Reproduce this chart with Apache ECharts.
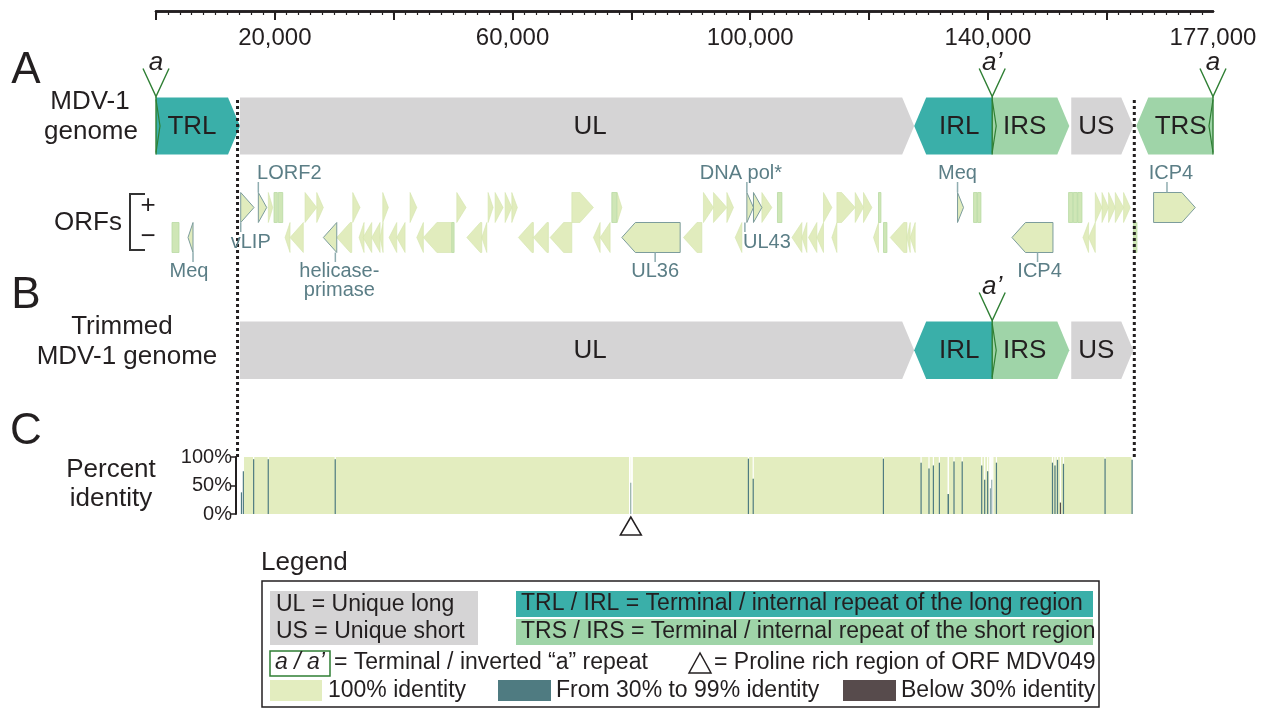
<!DOCTYPE html>
<html>
<head>
<meta charset="utf-8">
<script src="https://cdn.jsdelivr.net/npm/echarts@6/dist/echarts.min.js"></script>
<style>
  html, body { margin: 0; padding: 0; background: #fff; }
  #chart { width: 1270px; height: 708px; }
</style>
</head>
<body>
<div id="chart"></div>
<script>
const GENOME_LENGTH = 177874

// top scale
const majorTicks = [0, 20000, 40000, 60000, 80000, 100000, 120000, 140000, 160000]
const tickLabels = [20000, 60000, 100000, 140000, 177874]
const tickLabelText = ['20,000', '60,000', '100,000', '140,000', '177,000']

// genome regions (bp), strand 1 = arrow right, -1 = arrow left
const regionNames = ['TRL', 'UL', 'IRL', 'IRS', 'US', 'TRS']
const regionStart = [0, 14140, 127590, 140720, 154020, 164960]
const regionEnd = [14140, 127590, 140720, 153690, 164460, 177874]
const regionStrand = [1, 1, -1, 1, 1, -1]
const trimmedRegions = ['UL', 'IRL', 'IRS', 'US']
const trimBounds = [13720, 164630]

// a / a' repeats
const repeatPos = [0, 140720, 177874]
const repeatName = ['a', 'a’', 'a']
const repeatDir = [1, 1, -1]
const trimmedRepeats = [1]

// ORFs [start, end]
const plusOrfs = [[18903, 19644], [25081, 27051], [27051, 28162], [33111, 34339], [38161, 39103],
  [42756, 43884], [50617, 52182], [55886, 56727], [57064, 58411], [58748, 59875], [59875, 60818],
  [69974, 73611], [77601, 78393], [92128, 93812], [93812, 96067], [96067, 97178], [101958, 103641],
  [112326, 113740], [114582, 117663], [117663, 119060], [119060, 120474], [158062, 159190],
  [159190, 160301], [160301, 161429], [161429, 162826], [162826, 163953]]
const plusFragments = [[19863, 20419], [20587, 21327], [76709, 77551], [104584, 105324],
  [121586, 121990], [137577, 138149], [138250, 138822], [153568, 154275], [154359, 155032], [155116, 155823]]
const minusOrfs = [[21715, 22557], [22557, 24795], [30418, 32943], [34171, 35013], [34844, 36309],
  [36309, 37706], [37706, 38211], [39221, 40517], [40517, 41914], [43884, 44995], [44995, 49775],
  [52300, 54825], [54825, 55667], [60986, 63511], [63511, 66036], [66322, 69974], [73611, 74739],
  [74739, 76422], [88762, 91859], [97463, 98591], [107009, 108692], [108692, 109534], [109803, 111217],
  [111217, 112326], [113740, 114582], [120743, 121586], [123554, 126365], [126365, 126920],
  [126920, 127762], [155992, 156935], [156935, 158062]]
const minusFragments = [[2693, 3872], [49775, 50162], [122427, 122999], [164509, 165081]]

// labelled ORFs
const labelNames = ['vLIP', 'LORF2', 'DNA pol*', 'UL43', 'Meq', 'ICP4', 'Meq', 'helicase-\nprimase', 'UL36', 'ICP4']
const labelOrfStart = [14258, 17220, 99433, 100544, 134885, 167876, 5387, 28162, 78393, 144042]
const labelOrfEnd = [16496, 18634, 100544, 101958, 135895, 174895, 6228, 30418, 88207, 150943]
const labelStrand = [1, 1, 1, 1, 1, 1, -1, -1, -1, -1]
const labelAnchor = [14258, 17220, 99433, 99100, 134885, 170130, 6228, 30182, 83997, 148349]
const labelTier = ['mid', 'top', 'top', 'mid', 'top', 'top', 'bottom', 'bottom', 'bottom', 'bottom']

// percent identity windows [start, end, percent]
const identityBase = [[14813, 164290, 100]]
const identityDips = [
  [14280, 14450, 38], [14600, 14800, 75], [16330, 16460, 96], [18790, 18920, 96], [30060, 30200, 96],
  [79600, 79850, 0], [79850, 79980, 55], [79980, 80250, 0],
  [99590, 99720, 97], [100400, 100580, 62], [122310, 122440, 97],
  [128650, 128790, 90], [129980, 130120, 80], [130720, 130860, 85], [131730, 131870, 90],
  [133200, 133450, 35], [134190, 134320, 92], [135570, 135700, 92],
  [138850, 138980, 85], [139350, 139480, 60], [139850, 139980, 75], [140200, 140330, 0],
  [140330, 140460, 45], [140460, 140600, 0], [140600, 140730, 60], [140730, 140880, 0], [141330, 141460, 90],
  [150760, 150890, 90], [151180, 151310, 85], [151600, 151730, 95], [152100, 152230, 20], [152610, 152740, 88],
  [159610, 159740, 97], [164160, 164290, 95]
]
const prolineSites = [79906]

// ---- styling / layout ----
const FONT = "'Liberation Sans', Arial, Helvetica, sans-serif"
const INK = '#231f20'
const REGION_COLOR = { TRL: '#3aafa9', IRL: '#3aafa9', TRS: '#9fd4a8', IRS: '#9fd4a8', UL: '#d5d4d5', US: '#d5d4d5' }
const REGION_LABEL_DX = { UL: 19 }
const ID_COLOR = { full: '#e3edbf', mid: '#4f7b81', low: '#574b4c' }
const REPEAT_COLOR = '#2f7f34'
const ORF_FILL = '#e1ecbd'
const LABEL_COLOR = '#5b7e86'
const TRACK_A = { top: 97.5, bottom: 154.5 }
const TRACK_B = { top: 321.5, bottom: 379 }
const ORF_ROW = { plus: [192.5, 222.5], minus: [222.5, 252.5] }
const labelDx = [10, 31, -6, 22, 0, 4, -4, 4, 0, 2]

const minorTicks = []
for (let v = 0; v <= 176000; v += 2000) minorTicks.push(v)

function arrow (x1, x2, yT, yB, dir, tip) {
  const t = Math.min(tip, x2 - x1)
  const ym = (yT + yB) / 2
  if (dir > 0) return [[x1, yT], [x2 - t, yT], [x2, ym], [x2 - t, yB], [x1, yB]]
  return [[x2, yT], [x1 + t, yT], [x1, ym], [x1 + t, yB], [x2, yB]]
}

function xOf (api, v) { return api.coord([v, 0])[0] }

function renderRegion (track) {
  return function (params, api) {
    const x1 = xOf(api, api.value(0))
    const x2 = xOf(api, api.value(1))
    const dir = api.value(2)
    const name = regionNames[api.value(3)]
    const mid = (dir > 0 ? (x1 + x2 - 12) / 2 : (x1 + 12 + x2) / 2) + (REGION_LABEL_DX[name] || 0)
    return {
      type: 'group',
      children: [
        { type: 'polygon', shape: { points: arrow(x1, x2, track.top, track.bottom, dir, 12) }, style: { fill: REGION_COLOR[name] } },
        { type: 'text', x: mid, y: (track.top + track.bottom) / 2 + 1,
          style: { text: name, fontSize: 26, fontFamily: FONT, fill: INK, align: 'center', verticalAlign: 'middle' } }
      ]
    }
  }
}

function renderRepeat (track) {
  return function (params, api) {
    const x = xOf(api, api.value(0))
    const dir = api.value(1)
    const name = repeatName[api.value(2)]
    const yt = track.top, yb = track.bottom
    return {
      type: 'group',
      children: [
        { type: 'polyline', shape: { points: [[x - 13, yt - 29], [x, yt - 1], [x + 13, yt - 29]] }, style: { stroke: REPEAT_COLOR, lineWidth: 1.4, fill: 'none' } },
        { type: 'line', shape: { x1: x, y1: yt - 1, x2: x, y2: yb }, style: { stroke: REPEAT_COLOR, lineWidth: 1.4 } },
        { type: 'polyline', shape: { points: [[x, yt + 2], [x + 4 * dir, (yt + yb) / 2], [x, yb - 2]] }, style: { stroke: REPEAT_COLOR, lineWidth: 1.2, fill: 'none' } },
        { type: 'text', x: x, y: yt - 35,
          style: { text: name, fontSize: 26, fontStyle: 'italic', fontFamily: FONT, fill: INK, align: 'center', verticalAlign: 'middle' } }
      ]
    }
  }
}

function renderOrf (params, api) {
  const x1 = xOf(api, api.value(0))
  const x2 = xOf(api, api.value(1))
  const strand = api.value(2)
  const fragment = api.value(3) === 1
  const row = strand > 0 ? ORF_ROW.plus : ORF_ROW.minus
  if (fragment) {
    return { type: 'rect', shape: { x: x1, y: row[0], width: Math.max(x2 - x1, 1.5), height: row[1] - row[0] },
      style: { fill: '#cfe6b6', stroke: '#b9dba4', lineWidth: 0.8 } }
  }
  return { type: 'polygon', shape: { points: arrow(x1, x2, row[0], row[1], strand, 13.5) },
    style: { fill: ORF_FILL, stroke: '#d3e4ac', lineWidth: 0.6 } }
}

function renderOrfLabel (params, api) {
  const i = api.value(4)
  const x1 = xOf(api, api.value(0))
  const x2 = xOf(api, api.value(1))
  const strand = api.value(2)
  const xa = xOf(api, api.value(3))
  const row = strand > 0 ? ORF_ROW.plus : ORF_ROW.minus
  const tier = labelTier[i]
  let c1, c2, ty, va
  if (tier === 'top') { c1 = 182; c2 = row[0]; ty = 183; va = 'bottom' }
  else if (tier === 'mid') { c1 = row[1]; c2 = 232; ty = 233; va = 'top' }
  else { c1 = row[1]; c2 = 262; ty = 262; va = 'top' }
  return {
    type: 'group',
    children: [
      { type: 'polygon', shape: { points: arrow(x1, x2, row[0], row[1], strand, 13.5) },
        style: { fill: ORF_FILL, stroke: '#7c9c9c', lineWidth: 1 } },
      { type: 'line', shape: { x1: xa, y1: c1, x2: xa, y2: c2 }, style: { stroke: '#8fadb0', lineWidth: 1.5 } },
      { type: 'text', x: xa + labelDx[i], y: ty,
        style: { text: labelNames[i], fontSize: 20, lineHeight: 19, fontFamily: FONT, fill: LABEL_COLOR, align: 'center', verticalAlign: va } }
    ]
  }
}

function renderIdentity (params, api) {
  const s = api.value(0), e = api.value(1), pct = api.value(2)
  const top = api.coord([s, 100])
  const lvl = api.coord([s, pct])
  const bot = api.coord([s, 0])
  const x2 = api.coord([e, 100])[0]
  const w = Math.max(x2 - top[0], 1.2)
  const color = pct >= 100 ? ID_COLOR.full : (pct >= 30 ? ID_COLOR.mid : ID_COLOR.low)
  return {
    type: 'group',
    children: [
      { type: 'rect', shape: { x: top[0], y: top[1], width: w, height: lvl[1] - top[1] }, style: { fill: '#ffffff' } },
      { type: 'rect', shape: { x: top[0], y: lvl[1], width: w, height: bot[1] - lvl[1] }, style: { fill: color } }
    ]
  }
}

function renderProline (params, api) {
  const p = api.coord([api.value(0), 0])
  return { type: 'polygon', shape: { points: [[p[0], p[1] + 3], [p[0] - 10.5, p[1] + 21], [p[0] + 10.5, p[1] + 21]] },
    style: { fill: '#fff', stroke: INK, lineWidth: 1.5 } }
}

function renderTrim (params, api) {
  const x = xOf(api, api.value(0))
  return { type: 'line', shape: { x1: x, y1: 100, x2: x, y2: 458 }, style: { stroke: INK, lineWidth: 3, lineDash: [3, 3] } }
}

function txt (x, y, text, size, extra) {
  return Object.assign({ type: 'text', x: x, y: y, z: 10,
    style: Object.assign({ text: text, fontSize: size, fontFamily: FONT, fill: INK, align: 'center', verticalAlign: 'middle' }, (extra || {})) })
}
function box (x, y, w, h, style) {
  return { type: 'rect', shape: { x: x, y: y, width: w, height: h }, style: style, z: 5 }
}

const graphic = [
  txt(26, 71, 'A', 44), txt(90, 102, 'MDV-1', 26), txt(91, 132, 'genome', 26),
  txt(88, 223, 'ORFs', 26),
  { type: 'polyline', shape: { points: [[145, 194], [130, 194], [130, 250], [145, 250]] }, style: { stroke: '#333', lineWidth: 2, fill: 'none' } },
  txt(148, 206, '+', 26), txt(148, 237, '−', 26),
  txt(26, 296, 'B', 44), txt(122, 327, 'Trimmed', 26), txt(127, 357, 'MDV-1 genome', 26),
  txt(26, 432, 'C', 44), txt(111, 470, 'Percent', 26), txt(111, 499, 'identity', 26),
  // legend
  txt(261, 563, 'Legend', 26, { align: 'left' }),
  box(262, 581, 837, 126, { fill: 'none', stroke: INK, lineWidth: 1.5 }),
  box(270, 591, 208, 54, { fill: REGION_COLOR.UL }),
  box(516, 591, 577, 26, { fill: REGION_COLOR.TRL }),
  box(516, 619, 577, 26, { fill: REGION_COLOR.TRS }),
  txt(276, 605, 'UL = Unique long', 23, { align: 'left' }),
  txt(276, 632, 'US = Unique short', 23, { align: 'left' }),
  txt(521, 604, 'TRL / IRL = Terminal / internal repeat of the long region', 23, { align: 'left' }),
  txt(521, 632, 'TRS / IRS = Terminal / internal repeat of the short region', 23, { align: 'left' }),
  box(270, 651, 60, 25, { fill: '#fff', stroke: REPEAT_COLOR, lineWidth: 1.5 }),
  txt(300, 663, 'a / a’', 23, { fontStyle: 'italic' }),
  txt(334, 663, '= Terminal / inverted “a” repeat', 23, { align: 'left' }),
  { type: 'polygon', shape: { points: [[700, 653], [689, 673], [711, 673]] }, style: { fill: '#fff', stroke: INK, lineWidth: 1.5 }, z: 5 },
  txt(714, 663, '= Proline rich region of ORF MDV049', 23, { align: 'left' }),
  box(270, 680, 52, 21, { fill: ID_COLOR.full }),
  txt(328, 691, '100% identity', 23, { align: 'left' }),
  box(498, 680, 53, 21, { fill: ID_COLOR.mid }),
  txt(556, 691, 'From 30% to 99% identity', 23, { align: 'left' }),
  box(843, 680, 53, 21, { fill: ID_COLOR.low }),
  txt(901, 691, 'Below 30% identity', 23, { align: 'left' })
]

const regionData = regionNames.map((n, i) => [regionStart[i], regionEnd[i], regionStrand[i], i])
const trimmedData = regionData.filter(d => trimmedRegions.indexOf(regionNames[d[3]]) >= 0)
const repeatData = repeatPos.map((p, i) => [p, repeatDir[i], i])
const orfData = []
  .concat(plusOrfs.map(d => [d[0], d[1], 1, 0]))
  .concat(minusOrfs.map(d => [d[0], d[1], -1, 0]))
  .concat(plusFragments.map(d => [d[0], d[1], 1, 1]))
  .concat(minusFragments.map(d => [d[0], d[1], -1, 1]))
const labelData = labelNames.map((n, i) => [labelOrfStart[i], labelOrfEnd[i], labelStrand[i], labelAnchor[i], i])

const chart = echarts.init(document.getElementById('chart'))
chart.setOption({
  animation: false,
  graphic: graphic,
  grid: [
    { left: 156, right: 57, top: 11, bottom: 0 },
    { left: 156, right: 57, top: 457, height: 57 },
    { left: 156, right: 57, top: 11, bottom: 0 }
  ],
  xAxis: [
    { gridIndex: 0, type: 'value', position: 'top', min: 0, max: GENOME_LENGTH,
      axisLine: { onZero: false, lineStyle: { color: INK, width: 2.5 } },
      axisTick: { inside: true, length: 4, customValues: minorTicks, lineStyle: { color: INK, width: 1.2 } },
      axisLabel: { show: false }, splitLine: { show: false } },
    { gridIndex: 1, type: 'value', min: 0, max: GENOME_LENGTH, show: false },
    { gridIndex: 2, type: 'value', position: 'top', min: 0, max: GENOME_LENGTH,
      axisLine: { show: true, onZero: false, lineStyle: { color: INK, width: 2.5 } },
      axisTick: { inside: true, length: 9, customValues: majorTicks, lineStyle: { color: INK, width: 2 } },
      axisLabel: { inside: true, margin: 15, customValues: tickLabels,
        formatter: v => tickLabelText[tickLabels.indexOf(v)], fontSize: 24, color: INK, fontFamily: FONT },
      splitLine: { show: false } }
  ],
  yAxis: [
    { gridIndex: 0, type: 'value', min: 0, max: 1, show: false },
    { gridIndex: 1, type: 'value', min: 0, max: 100, interval: 50, position: 'left', offset: -80,
      axisLine: { show: true, lineStyle: { color: INK, width: 2 } },
      axisTick: { show: true, length: 5, lineStyle: { color: INK, width: 1.5 } },
      axisLabel: { formatter: '{value}%', fontSize: 20, color: INK, fontFamily: FONT, margin: 4 },
      splitLine: { show: false } },
    { gridIndex: 2, type: 'value', min: 0, max: 1, show: false }
  ],
  series: [
    { type: 'custom', xAxisIndex: 0, yAxisIndex: 0, data: regionData, renderItem: renderRegion(TRACK_A), z: 2 },
    { type: 'custom', xAxisIndex: 0, yAxisIndex: 0, data: trimmedData, renderItem: renderRegion(TRACK_B), z: 2 },
    { type: 'custom', xAxisIndex: 0, yAxisIndex: 0, data: repeatData, renderItem: renderRepeat(TRACK_A), z: 4 },
    { type: 'custom', xAxisIndex: 0, yAxisIndex: 0, data: repeatData.filter(d => trimmedRepeats.indexOf(d[2]) >= 0), renderItem: renderRepeat(TRACK_B), z: 4 },
    { type: 'custom', xAxisIndex: 0, yAxisIndex: 0, data: trimBounds.map(v => [v]), renderItem: renderTrim, z: 3 },
    { type: 'custom', xAxisIndex: 0, yAxisIndex: 0, data: orfData, renderItem: renderOrf, z: 2 },
    { type: 'custom', xAxisIndex: 0, yAxisIndex: 0, data: labelData, renderItem: renderOrfLabel, z: 3 },
    { type: 'custom', xAxisIndex: 1, yAxisIndex: 1, data: identityBase.concat(identityDips), renderItem: renderIdentity, z: 2 },
    { type: 'custom', xAxisIndex: 1, yAxisIndex: 1, data: prolineSites.map(v => [v]), renderItem: renderProline, z: 2 }
  ]
})
</script>
</body>
</html>
